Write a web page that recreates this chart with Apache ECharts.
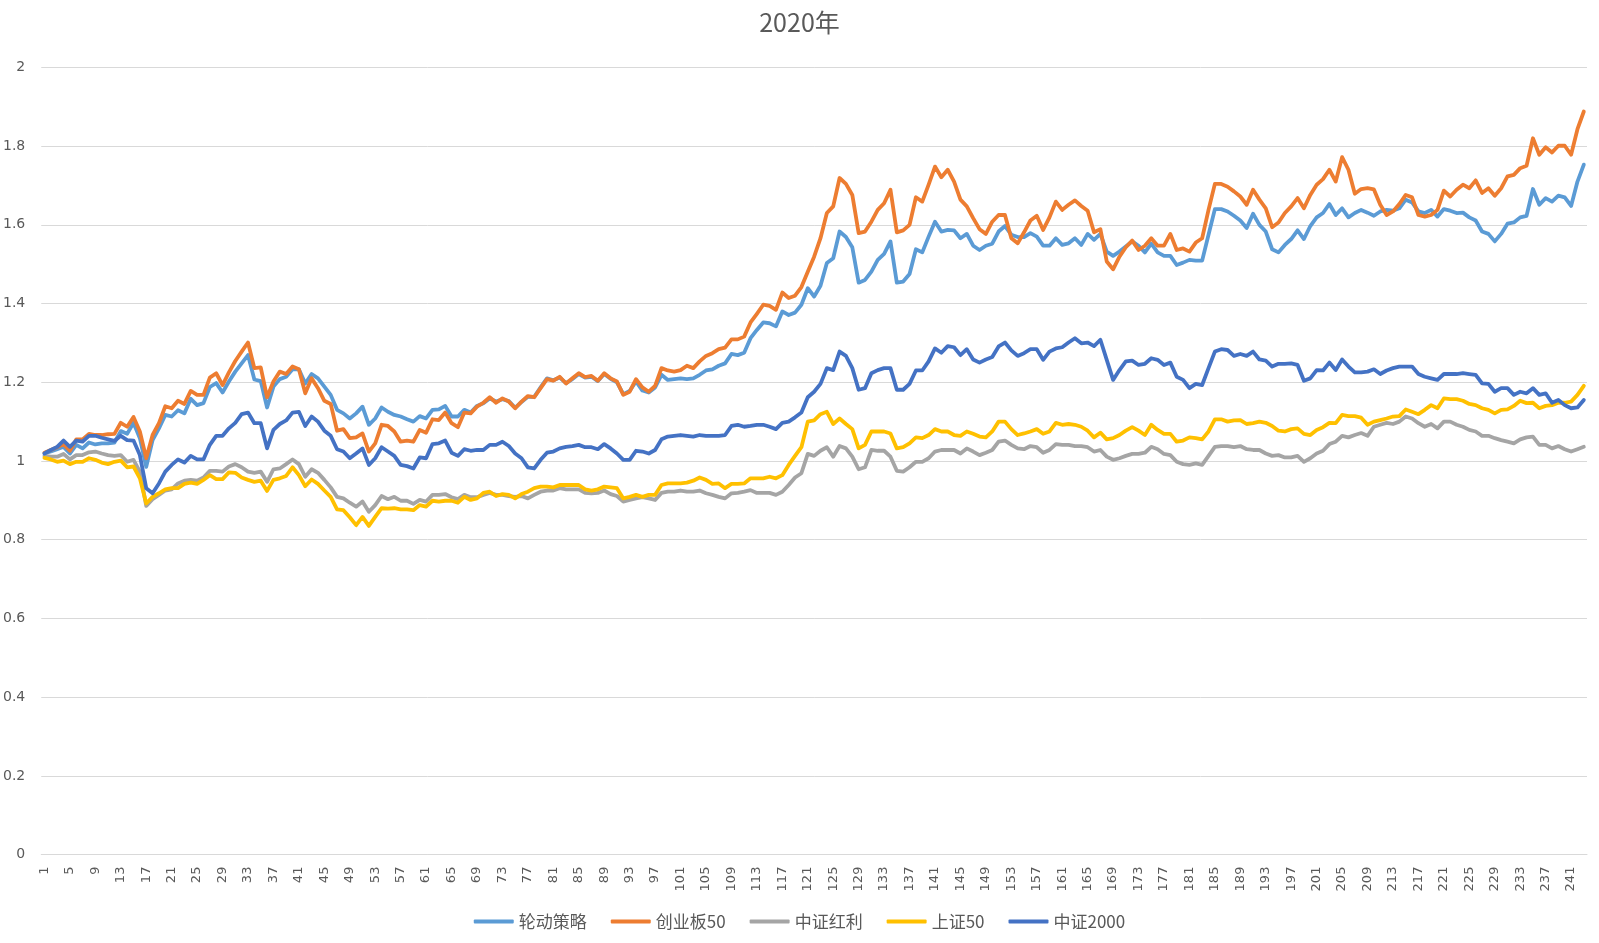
<!DOCTYPE html>
<html>
<head>
<meta charset="utf-8">
<script src="https://cdn.jsdelivr.net/npm/echarts@6/dist/echarts.min.js"></script>
<style>
html,body{margin:0;padding:0;background:#fff;}
#chart{width:1599px;height:943px;}
</style>
</head>
<body>
<div id="chart"></div>
<script>
const titleText = '2020年';
const seriesNames = ['轮动策略', '创业板50', '中证红利', '上证50', '中证2000'];
const seriesColors = ['#5B9BD5', '#ED7D31', '#A5A5A5', '#FFC000', '#4472C4'];
const yTicks = { min: 0, max: 2, interval: 0.2 };
const pointCount = 243;
const categories = Array.from({ length: pointCount }, (_, k) => String(k + 1));

const lunDong = [
1.019,1.024,1.030,1.036,1.019,1.041,1.032,1.047,1.042,1.045,
1.045,1.047,1.076,1.069,1.097,1.058,0.985,1.053,1.083,1.117,
1.113,1.129,1.121,1.158,1.142,1.147,1.188,1.198,1.174,1.202,
1.227,1.248,1.269,1.207,1.203,1.136,
1.189,1.208,1.214,1.233,1.233,1.197,1.221,1.210,1.189,1.168,1.130,1.121,1.108,1.121,1.138,1.092,1.108,1.136,1.125,1.117,1.113,1.106,1.100,1.114,1.108,1.130,1.131,1.140,1.113,1.113,1.130,1.123,1.140,1.147,1.159,1.151,
1.157,1.152,1.135,1.150,1.163,1.163,1.187,1.210,1.205,1.212,1.198,1.208,1.221,1.212,1.214,1.203,1.221,1.209,1.200,1.170,1.178,1.202,1.179,1.174,1.187,1.219,1.206,1.208,1.210,1.208,1.210,1.219,1.230,1.233,1.242,1.248,1.272,
1.269,1.275,1.312,1.333,1.352,1.350,1.342,1.380,1.371,1.377,1.397,1.439,1.418,1.445,1.503,1.515,1.583,1.569,1.543,1.453,1.460,1.481,1.511,1.526,1.558,1.453,1.456,1.475,1.538,1.530,1.570,1.608,1.583,1.587,1.586,1.566,
1.577,1.547,1.536,1.547,1.552,1.583,1.597,1.575,1.569,1.569,1.579,1.570,1.547,1.547,1.566,1.549,1.553,1.566,1.549,1.577,1.562,1.577,1.532,1.521,1.532,1.545,1.558,1.547,1.530,1.552,1.530,1.521,1.521,
1.498,1.504,1.511,1.509,1.509,1.575,1.640,1.640,1.634,1.623,1.611,1.592,1.628,1.600,1.583,1.538,1.530,1.549,1.564,1.586,1.564,1.597,1.619,1.630,1.653,1.625,1.642,1.619,1.630,1.638,1.631,1.623,1.634,
1.638,1.636,1.642,1.664,1.657,1.634,1.630,1.638,1.621,1.640,1.636,1.630,1.631,1.619,1.611,1.583,1.577,1.558,1.577,1.603,1.606,1.619,1.623,1.691,1.651,1.668,1.659,1.674,1.670,1.648,1.710,1.753
];

const cyb50 = [
1.021,1.028,1.035,1.043,1.026,1.055,1.055,1.069,1.066,1.066,1.068,1.069,1.097,1.087,1.112,1.075,1.007,1.066,1.096,1.139,1.134,1.153,1.145,1.178,1.168,1.168,1.212,1.223,1.193,1.225,1.254,1.278,1.301,1.236,1.238,1.162,
1.202,1.227,1.221,1.240,1.233,1.172,1.210,1.185,1.153,1.145,1.077,1.081,1.058,1.060,1.070,1.024,1.045,1.092,1.089,1.075,1.049,1.052,1.049,1.079,1.072,1.106,1.104,1.123,1.096,1.086,1.123,1.121,1.138,1.148,1.162,1.148,
1.159,1.151,1.134,1.151,1.165,1.162,1.185,1.208,1.204,1.214,1.197,1.210,1.223,1.213,1.216,1.204,1.223,1.210,1.202,1.168,1.176,1.208,1.187,1.176,1.191,1.236,1.230,1.227,1.231,1.242,1.236,1.253,1.267,1.274,1.284,1.288,1.309,
1.309,1.316,1.352,1.374,1.397,1.394,1.384,1.428,1.414,1.420,1.442,1.481,1.519,1.566,1.630,1.647,1.719,1.704,1.676,1.579,1.583,1.608,1.638,1.655,1.689,1.581,1.586,1.600,1.670,1.659,1.702,1.748,1.721,1.740,1.710,1.664,
1.647,1.617,1.589,1.577,1.608,1.625,1.625,1.566,1.553,1.581,1.611,1.623,1.587,1.619,1.659,1.638,1.651,1.662,1.648,1.636,1.581,1.589,1.507,1.487,1.519,1.543,1.560,1.536,1.547,1.566,1.547,1.547,1.577,
1.536,1.540,1.532,1.555,1.566,1.638,1.704,1.704,1.697,1.685,1.672,1.651,1.689,1.664,1.642,1.594,1.606,1.630,1.647,1.668,1.642,1.676,1.702,1.716,1.740,1.710,1.772,1.740,1.679,1.691,1.693,1.690,1.651,
1.625,1.634,1.653,1.676,1.670,1.625,1.621,1.625,1.638,1.687,1.672,1.689,1.702,1.693,1.713,1.681,1.693,1.674,1.693,1.723,1.727,1.744,1.750,1.820,1.778,1.797,1.784,1.801,1.801,1.778,1.843,1.888
];

const zzhl = [
1.013,1.011,1.011,1.018,1.004,1.015,1.015,1.022,1.024,1.019,1.015,1.013,1.015,0.998,1.003,0.973,0.886,0.903,0.914,0.925,0.928,0.943,0.950,0.952,0.950,0.958,0.975,0.975,0.973,0.986,0.992,0.984,0.973,0.970,0.973,0.947,
0.979,0.981,0.992,1.004,0.992,0.960,0.979,0.970,0.952,0.933,0.909,0.905,0.894,0.884,0.897,0.871,0.888,0.911,0.903,0.909,0.899,0.899,0.891,0.901,0.897,0.914,0.914,0.916,0.908,0.903,0.914,0.908,0.908,0.914,0.919,0.914,
0.914,0.911,0.909,0.911,0.905,0.914,0.922,0.925,0.925,0.931,0.928,0.928,0.928,0.919,0.918,0.919,0.925,0.916,0.911,0.897,0.901,0.905,0.908,0.905,0.901,0.919,0.922,0.922,0.925,0.922,0.922,0.925,0.918,0.914,0.909,0.905,0.918,
0.919,0.922,0.926,0.919,0.919,0.919,0.914,0.922,0.939,0.958,0.969,1.018,1.013,1.026,1.035,1.011,1.038,1.032,1.011,0.979,0.984,1.028,1.026,1.026,1.011,0.975,0.973,0.984,0.998,0.998,1.007,1.024,1.028,1.028,1.028,1.019,
1.032,1.024,1.015,1.021,1.028,1.049,1.052,1.041,1.032,1.030,1.038,1.035,1.021,1.028,1.043,1.041,1.041,1.038,1.038,1.035,1.024,1.028,1.011,1.003,1.007,1.013,1.018,1.018,1.021,1.036,1.030,1.018,1.015,
0.998,0.992,0.990,0.994,0.990,1.013,1.036,1.038,1.038,1.035,1.038,1.030,1.028,1.028,1.019,1.013,1.015,1.009,1.009,1.013,0.998,1.007,1.019,1.026,1.043,1.049,1.064,1.060,1.066,1.071,1.064,1.087,1.092,
1.097,1.094,1.100,1.113,1.108,1.096,1.087,1.094,1.083,1.100,1.100,1.092,1.087,1.079,1.075,1.064,1.064,1.058,1.053,1.049,1.045,1.055,1.060,1.062,1.041,1.041,1.032,1.038,1.030,1.024,1.030,1.036
];

const sz50 = [
1.008,1.004,0.998,1.001,0.992,0.998,0.998,1.007,1.003,0.996,0.992,0.998,1.001,0.984,0.986,0.956,0.892,0.909,0.918,0.928,0.931,0.931,0.942,0.945,0.942,0.952,0.964,0.954,0.954,0.971,0.970,0.958,0.952,0.947,0.950,0.924,
0.952,0.956,0.962,0.984,0.964,0.936,0.953,0.942,0.925,0.909,0.877,0.875,0.857,0.837,0.858,0.835,0.858,0.880,0.879,0.880,0.877,0.877,0.875,0.888,0.884,0.899,0.897,0.899,0.899,0.894,0.909,0.901,0.905,0.919,0.922,0.911,
0.916,0.914,0.905,0.916,0.922,0.931,0.935,0.935,0.933,0.939,0.939,0.939,0.939,0.928,0.925,0.928,0.935,0.933,0.931,0.905,0.909,0.914,0.909,0.914,0.914,0.939,0.943,0.943,0.943,0.945,0.950,0.958,0.952,0.942,0.943,0.931,0.942,
0.942,0.943,0.956,0.956,0.956,0.960,0.956,0.964,0.990,1.013,1.035,1.100,1.103,1.119,1.125,1.094,1.108,1.094,1.081,1.032,1.041,1.075,1.075,1.075,1.070,1.032,1.035,1.045,1.060,1.058,1.066,1.081,1.075,1.075,1.066,1.064,
1.075,1.069,1.062,1.060,1.075,1.100,1.100,1.081,1.066,1.070,1.075,1.081,1.069,1.075,1.097,1.092,1.094,1.092,1.087,1.077,1.060,1.072,1.055,1.058,1.066,1.077,1.086,1.077,1.066,1.092,1.079,1.069,1.069,
1.049,1.052,1.060,1.058,1.055,1.075,1.106,1.106,1.100,1.103,1.104,1.094,1.096,1.100,1.097,1.089,1.077,1.075,1.081,1.083,1.069,1.066,1.079,1.086,1.097,1.096,1.117,1.114,1.114,1.110,1.092,1.100,1.104,
1.108,1.113,1.114,1.131,1.125,1.119,1.130,1.142,1.134,1.159,1.157,1.157,1.153,1.145,1.142,1.134,1.130,1.121,1.130,1.131,1.140,1.153,1.147,1.148,1.134,1.140,1.142,1.148,1.148,1.151,1.168,1.191
];

const zz2000 = [
1.019,1.028,1.036,1.052,1.036,1.052,1.049,1.064,1.064,1.059,1.055,1.051,1.064,1.053,1.052,1.015,0.931,0.918,0.943,0.973,0.990,1.004,0.996,1.013,1.004,1.004,1.041,1.064,1.064,1.083,1.097,1.119,1.123,1.096,1.096,1.032,
1.079,1.094,1.103,1.123,1.125,1.089,1.113,1.100,1.077,1.064,1.030,1.024,1.007,1.019,1.032,0.990,1.007,1.035,1.024,1.013,0.990,0.987,0.981,1.009,1.007,1.043,1.045,1.052,1.021,1.013,1.030,1.026,1.028,1.028,1.041,1.041,
1.049,1.038,1.019,1.007,0.984,0.981,1.003,1.021,1.024,1.032,1.036,1.038,1.041,1.035,1.035,1.030,1.043,1.032,1.019,1.003,1.003,1.026,1.024,1.019,1.028,1.055,1.062,1.064,1.066,1.064,1.062,1.066,1.064,1.064,1.064,1.066,1.089,
1.092,1.087,1.089,1.092,1.092,1.087,1.081,1.097,1.100,1.111,1.123,1.162,1.176,1.196,1.236,1.231,1.278,1.267,1.236,1.181,1.185,1.223,1.231,1.236,1.236,1.181,1.181,1.196,1.230,1.230,1.253,1.286,1.275,1.292,1.289,1.269,
1.284,1.258,1.250,1.258,1.264,1.291,1.301,1.281,1.267,1.274,1.284,1.284,1.257,1.278,1.286,1.289,1.301,1.312,1.299,1.301,1.292,1.308,1.257,1.206,1.231,1.253,1.255,1.244,1.247,1.261,1.257,1.244,1.250,
1.214,1.206,1.185,1.196,1.193,1.236,1.278,1.284,1.282,1.267,1.272,1.267,1.278,1.258,1.255,1.240,1.247,1.247,1.248,1.244,1.204,1.210,1.231,1.230,1.250,1.231,1.258,1.240,1.225,1.225,1.227,1.233,1.221,
1.230,1.236,1.240,1.240,1.240,1.221,1.214,1.210,1.206,1.221,1.221,1.221,1.223,1.221,1.219,1.197,1.196,1.176,1.185,1.185,1.168,1.176,1.172,1.185,1.168,1.172,1.148,1.155,1.142,1.134,1.136,1.155
];

const seriesData = [lunDong, cyb50, zzhl, sz50, zz2000];

const chart = echarts.init(document.getElementById('chart'), null, { renderer: 'canvas' });
const textColor = '#595959';
const option = {
  animation: false,
  backgroundColor: '#ffffff',
  color: seriesColors,
  title: {
    text: titleText,
    left: 'center',
    top: 2,
    textStyle: { fontSize: 25, fontWeight: 'normal', color: textColor, fontFamily: '"Noto Sans CJK SC", sans-serif', lineHeight: 30 }
  },
  legend: {
    data: seriesNames,
    left: 'center',
    top: 908,
    itemWidth: 40,
    itemHeight: 4,
    itemGap: 24,
    icon: 'roundRect',
    textStyle: { fontSize: 17, color: textColor, fontFamily: '"Noto Sans CJK SC", sans-serif' }
  },
  grid: { left: 40.7, right: 12, top: 67.4, bottom: 88.4, containLabel: false },
  xAxis: {
    type: 'category',
    data: categories,
    boundaryGap: true,
    axisLine: { show: true, lineStyle: { color: '#D9D9D9', width: 1 } },
    axisTick: { show: false },
    axisLabel: { interval: 3, rotate: 90, margin: 12, fontSize: 13, color: textColor, fontFamily: '"DejaVu Sans", sans-serif' },
    splitLine: { show: false }
  },
  yAxis: {
    type: 'value',
    min: yTicks.min,
    max: yTicks.max,
    interval: yTicks.interval,
    axisLine: { show: false },
    axisTick: { show: false },
    axisLabel: { margin: 16, fontSize: 14, color: textColor, fontFamily: '"DejaVu Sans", sans-serif' },
    splitLine: { show: true, lineStyle: { color: '#D9D9D9', width: 1 } }
  },
  series: seriesNames.map((name, k) => ({
    name: name,
    type: 'line',
    data: seriesData[k],
    symbol: 'none',
    smooth: false,
    lineStyle: { width: 3.8, color: seriesColors[k], cap: 'round', join: 'round' },
    itemStyle: { color: seriesColors[k] },
    emphasis: { disabled: true }
  }))
};
chart.setOption(option);
</script>
</body>
</html>
